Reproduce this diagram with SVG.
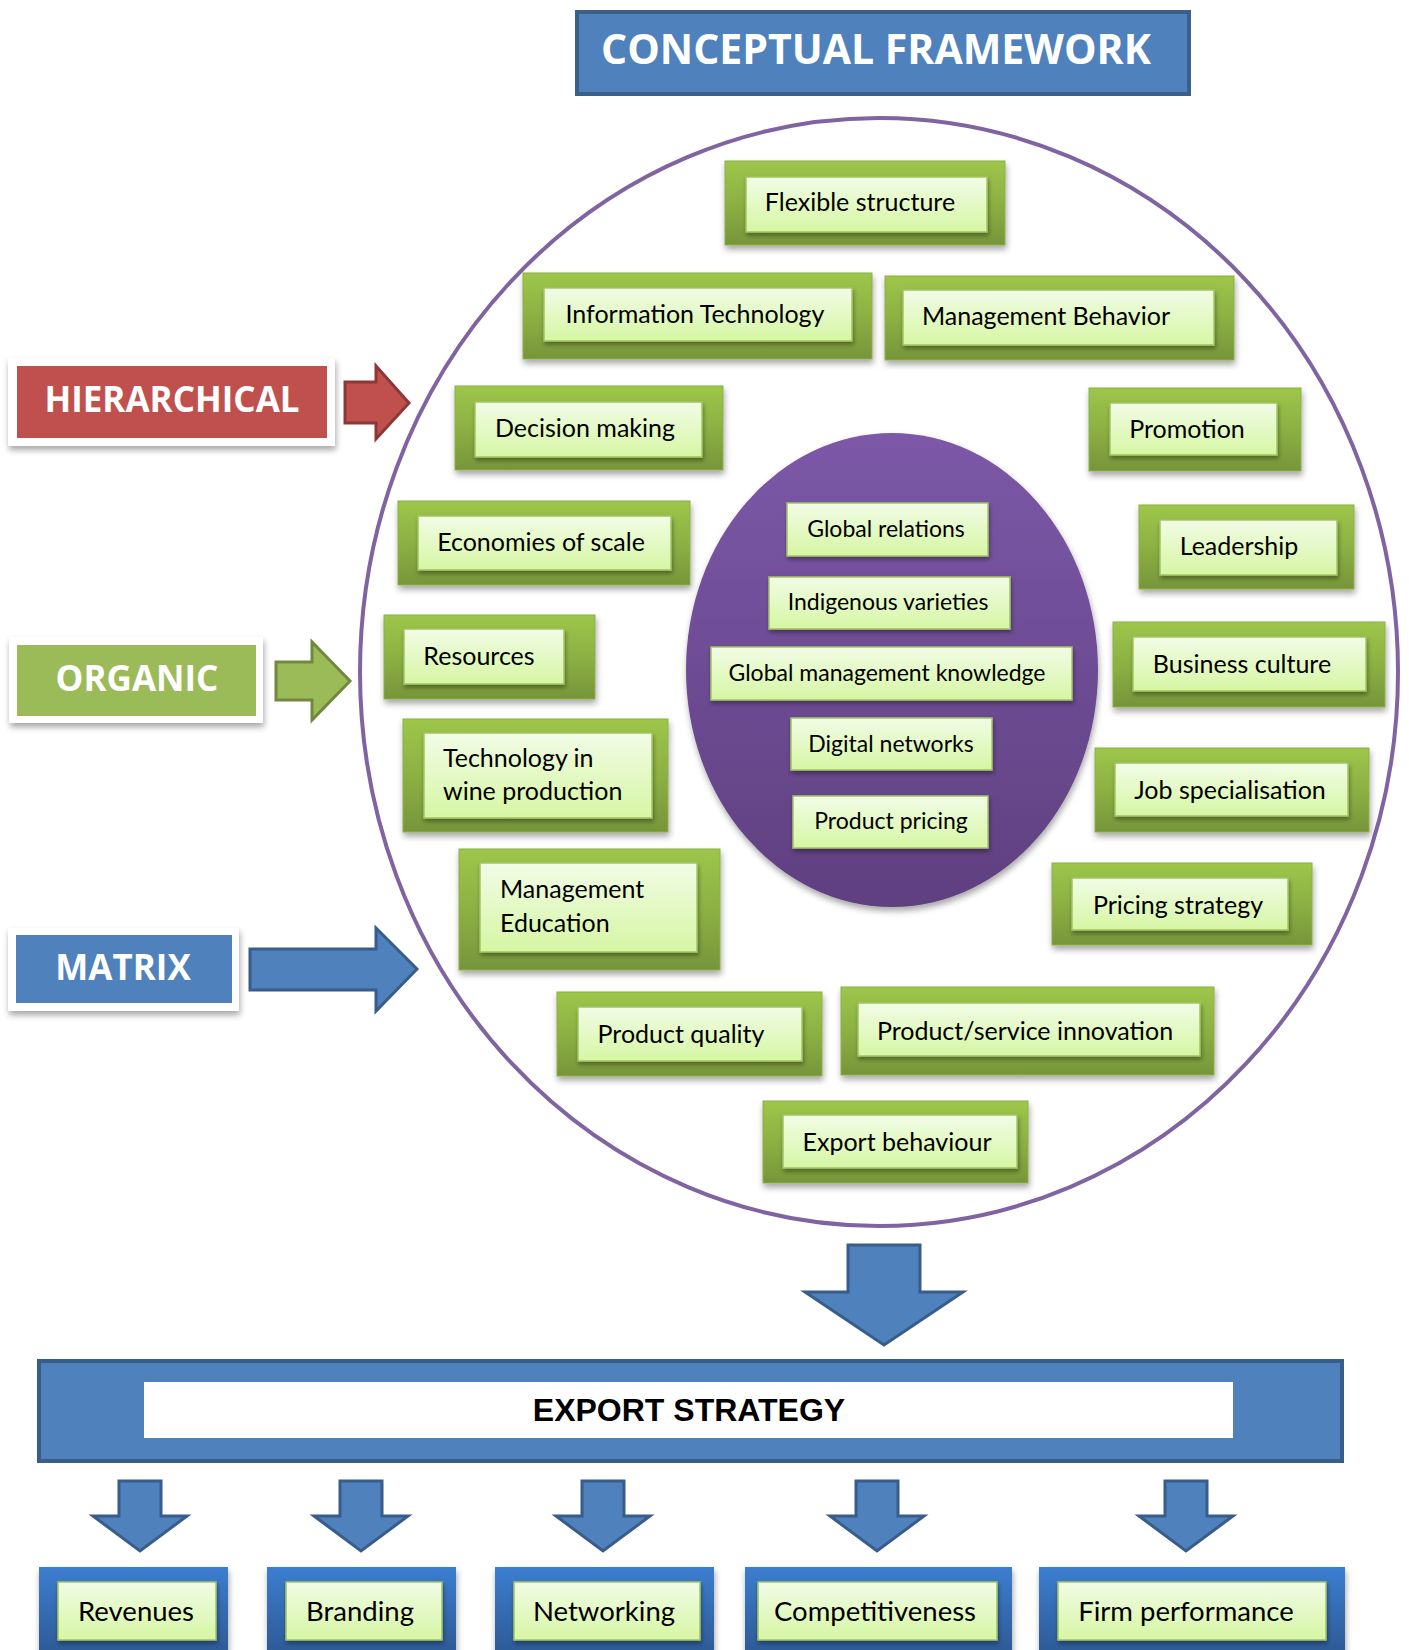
<svg xmlns="http://www.w3.org/2000/svg" width="1409" height="1650" viewBox="0 0 1409 1650">
<defs>
<linearGradient id="gOuter" x1="0" y1="0" x2="0" y2="1"><stop offset="0" stop-color="#9DC649"/><stop offset="0.5" stop-color="#8DB043"/><stop offset="1" stop-color="#76953A"/></linearGradient>
<linearGradient id="gInner" x1="0" y1="0" x2="0" y2="1"><stop offset="0" stop-color="#F1FCE6"/><stop offset="1" stop-color="#D6F6A3"/></linearGradient>
<linearGradient id="gPurple" x1="0" y1="0" x2="0" y2="1"><stop offset="0" stop-color="#7C58A8"/><stop offset="1" stop-color="#5F4080"/></linearGradient>
<linearGradient id="gBlue" x1="0" y1="0" x2="0" y2="1"><stop offset="0" stop-color="#3C7ED0"/><stop offset="1" stop-color="#2D5892"/></linearGradient>
<filter id="sh" x="-10%" y="-10%" width="130%" height="140%"><feDropShadow dx="1" dy="4" stdDeviation="3" flood-color="#000" flood-opacity="0.35"/></filter>
<filter id="shs" x="-10%" y="-10%" width="130%" height="140%"><feDropShadow dx="1" dy="3" stdDeviation="2" flood-color="#000" flood-opacity="0.35"/></filter>
</defs>
<style>
.outer{fill:url(#gOuter);stroke:#8CB048;stroke-width:1;filter:url(#sh)}
.inner{fill:url(#gInner);stroke:#A3C463;stroke-width:1.5;filter:url(#shs)}
.t{font-family:Lato,"Liberation Sans",sans-serif;font-size:25px;fill:#000;dominant-baseline:central}
.ct{font-family:Lato,"Liberation Sans",sans-serif;font-size:23px;fill:#000;dominant-baseline:central;text-anchor:middle}
.c{text-anchor:middle}
.bt{font-family:Lato,"Liberation Sans",sans-serif;font-size:27.5px;fill:#000;dominant-baseline:central;text-anchor:middle}
.lbl{font-family:"Open Sans","DejaVu Sans",sans-serif;font-weight:700;fill:#fff;text-anchor:middle;dominant-baseline:central}
.frame{fill:#fff;filter:url(#sh)}
.arr{fill:#4F81BD;stroke:#385D8A;stroke-width:3;stroke-linejoin:miter}
.bbox{fill:url(#gBlue);filter:url(#sh)}
</style>
<rect width="1409" height="1650" fill="#fff"/>

<g id="title">
<rect x="577" y="12" width="612" height="82" fill="#4F81BD" stroke="#3A5F8B" stroke-width="4"/>
<text class="lbl" x="876" y="48" font-size="41">CONCEPTUAL FRAMEWORK</text>
</g>

<g id="outer-circle">
<ellipse cx="879" cy="672" rx="519" ry="554" fill="none" stroke="#8064A2" stroke-width="4"/>
</g>

<g id="hierarchical">
<rect class="frame" x="8" y="358" width="327" height="88"/>
<rect x="17" y="366" width="310" height="72" fill="#C0504D"/>
<text class="lbl" x="172" y="398" font-size="35">HIERARCHICAL</text>
</g>
<g id="organic">
<rect class="frame" x="9" y="637" width="254" height="86"/>
<rect x="17" y="645" width="239" height="71" fill="#9BBB59"/>
<text class="lbl" x="137" y="677" font-size="35">ORGANIC</text>
</g>
<g id="matrix">
<rect class="frame" x="8" y="928" width="231" height="83"/>
<rect x="16" y="935" width="216" height="68" fill="#4F81BD"/>
<text class="lbl" x="123" y="966" font-size="35">MATRIX</text>
</g>

<g id="connectors">
<polygon points="345,382 376,382 376,366 409,403 376,439 376,423 345,423" fill="#C0504D" stroke="#8C3836" stroke-width="3"/>
<polygon points="276,662 312,662 312,642 350,681 312,720 312,700 276,700" fill="#9BBB59" stroke="#71893F" stroke-width="3"/>
<polygon points="250,949 376,949 376,928 417,969 376,1011 376,990 250,990" class="arr"/>
<polygon points="848,1245 920,1245 920,1292 963,1292 884,1345 805,1292 848,1292" class="arr"/>
<polygon points="119,1481 161,1481 161,1516 187,1516 140,1551 93,1516 119,1516" class="arr"/>
<polygon points="340,1481 382,1481 382,1516 408,1516 361,1551 314,1516 340,1516" class="arr"/>
<polygon points="582,1481 624,1481 624,1516 650,1516 603,1551 556,1516 582,1516" class="arr"/>
<polygon points="856,1481 898,1481 898,1516 924,1516 877,1551 830,1516 856,1516" class="arr"/>
<polygon points="1165,1481 1207,1481 1207,1516 1233,1516 1186,1551 1139,1516 1165,1516" class="arr"/>
</g>

<g id="n-flexible"><rect class="outer" x="725" y="161" width="280" height="84"/><rect class="inner" x="746" y="177" width="241" height="55"/><text class="t c" x="860" y="201">Flexible structure</text></g>
<g id="n-it"><rect class="outer" x="523" y="273" width="349" height="86"/><rect class="inner" x="544" y="288" width="308" height="53"/><text class="t c" x="695" y="313">Information Technology</text></g>
<g id="n-mgmt-behavior"><rect class="outer" x="885" y="276" width="349" height="84"/><rect class="inner" x="903" y="290" width="311" height="55"/><text class="t c" x="1046" y="315">Management Behavior</text></g>
<g id="n-decision"><rect class="outer" x="455" y="386" width="268" height="84"/><rect class="inner" x="475" y="402" width="227" height="55"/><text class="t c" x="585" y="427">Decision making</text></g>
<g id="n-promotion"><rect class="outer" x="1089" y="388" width="212" height="83"/><rect class="inner" x="1110" y="403" width="167" height="52"/><text class="t c" x="1187" y="428">Promotion</text></g>
<g id="n-economies"><rect class="outer" x="398" y="501" width="292" height="84"/><rect class="inner" x="418" y="516" width="253" height="54"/><text class="t c" x="541" y="541">Economies of scale</text></g>
<g id="n-leadership"><rect class="outer" x="1139" y="505" width="215" height="84"/><rect class="inner" x="1160" y="520" width="177" height="55"/><text class="t c" x="1239" y="545">Leadership</text></g>
<g id="n-resources"><rect class="outer" x="384" y="615" width="211" height="84"/><rect class="inner" x="404" y="629" width="160" height="55"/><text class="t c" x="479" y="655">Resources</text></g>
<g id="n-business-culture"><rect class="outer" x="1113" y="622" width="272" height="85"/><rect class="inner" x="1133" y="637" width="233" height="54"/><text class="t c" x="1242" y="663">Business culture</text></g>
<g id="n-tech-wine"><rect class="outer" x="403" y="719" width="265" height="113"/><rect class="inner" x="424" y="733" width="228" height="85"/><text class="t" x="443" y="757">Technology in</text><text class="t" x="443" y="790">wine production</text></g>
<g id="n-job"><rect class="outer" x="1095" y="748" width="274" height="84"/><rect class="inner" x="1115" y="763" width="233" height="53"/><text class="t c" x="1230" y="789">Job specialisation</text></g>
<g id="n-mgmt-education"><rect class="outer" x="459" y="849" width="261" height="121"/><rect class="inner" x="480" y="863" width="217" height="89"/><text class="t" x="500" y="888">Management</text><text class="t" x="500" y="922">Education</text></g>
<g id="n-pricing-strategy"><rect class="outer" x="1052" y="863" width="260" height="82"/><rect class="inner" x="1072" y="878" width="216" height="52"/><text class="t c" x="1178" y="904">Pricing strategy</text></g>
<g id="n-product-quality"><rect class="outer" x="557" y="992" width="265" height="84"/><rect class="inner" x="578" y="1007" width="224" height="54"/><text class="t c" x="681" y="1033">Product quality</text></g>
<g id="n-innovation"><rect class="outer" x="841" y="987" width="373" height="88"/><rect class="inner" x="858" y="1003" width="342" height="53"/><text class="t c" x="1025" y="1030">Product/service innovation</text></g>
<g id="n-export-behaviour"><rect class="outer" x="763" y="1101" width="265" height="82"/><rect class="inner" x="783" y="1115" width="234" height="53"/><text class="t c" x="897" y="1141">Export behaviour</text></g>

<g id="inner-circle">
<ellipse cx="892" cy="670" rx="206" ry="237" fill="url(#gPurple)" filter="url(#sh)"/>
</g>
<g id="c-global-relations"><rect class="inner" x="787" y="503" width="201" height="53"/><text class="ct" x="886" y="528">Global relations</text></g>
<g id="c-indigenous"><rect class="inner" x="769" y="577" width="241" height="52"/><text class="ct" x="888" y="601">Indigenous varieties</text></g>
<g id="c-gmk"><rect class="inner" x="711" y="647" width="361" height="53"/><text class="ct" x="887" y="672">Global management knowledge</text></g>
<g id="c-digital"><rect class="inner" x="791" y="718" width="201" height="52"/><text class="ct" x="891" y="743">Digital networks</text></g>
<g id="c-pricing"><rect class="inner" x="793" y="796" width="195" height="52"/><text class="ct" x="891" y="820">Product pricing</text></g>

<g id="export-strategy">
<rect x="39" y="1361" width="1303" height="100" fill="#4F81BD" stroke="#385D8A" stroke-width="4"/>
<rect x="144" y="1382" width="1089" height="56" fill="#fff"/>
<text x="689" y="1410" font-family="'Liberation Sans',Arial,sans-serif" font-weight="700" font-size="32" text-anchor="middle" dominant-baseline="central" fill="#000">EXPORT STRATEGY</text>
</g>

<g id="o-revenues"><rect class="bbox" x="39" y="1567" width="189" height="90"/><rect class="inner" x="58" y="1582" width="158" height="58"/><text class="bt" x="136" y="1610">Revenues</text></g>
<g id="o-branding"><rect class="bbox" x="267" y="1567" width="189" height="90"/><rect class="inner" x="286" y="1582" width="156" height="58"/><text class="bt" x="360" y="1610">Branding</text></g>
<g id="o-networking"><rect class="bbox" x="495" y="1567" width="219" height="90"/><rect class="inner" x="514" y="1582" width="186" height="58"/><text class="bt" x="604" y="1610">Networking</text></g>
<g id="o-competitiveness"><rect class="bbox" x="745" y="1567" width="267" height="90"/><rect class="inner" x="758" y="1582" width="239" height="58"/><text class="bt" x="875" y="1610">Competitiveness</text></g>
<g id="o-firm-performance"><rect class="bbox" x="1039" y="1567" width="306" height="90"/><rect class="inner" x="1058" y="1582" width="268" height="58"/><text class="bt" x="1186" y="1610">Firm performance</text></g>
</svg>
